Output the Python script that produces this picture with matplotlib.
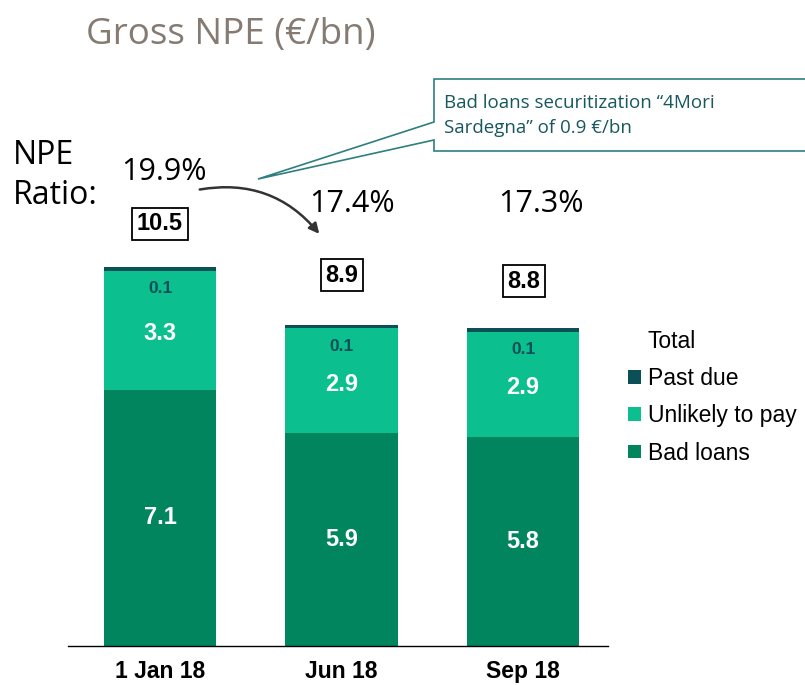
import matplotlib
matplotlib.use("Agg")
import matplotlib.pyplot as plt
from matplotlib.patches import Patch, Polygon, FancyArrowPatch
import numpy as np

categories = ["1 Jan 18", "Jun 18", "Sep 18"]
bad_loans = [7.1, 5.9, 5.8]
unlikely_to_pay = [3.3, 2.9, 2.9]
past_due = [0.1, 0.1, 0.1]
totals = [10.5, 8.9, 8.8]
npe_ratio = ["19.9%", "17.4%", "17.3%"]

C_BAD = "#00855F"
C_UTP = "#0BBF8E"
C_PD = "#0B4F57"

W, H = 805, 685
fig = plt.figure(figsize=(W / 100, H / 100), dpi=100)
fig.patch.set_facecolor("white")

def fx(x):
    return x / W

def fy(y):
    return 1 - y / H

ax = fig.add_axes([fx(68), fy(646), (608 - 68) / W, (646 - 60) / H])
x = np.arange(len(categories))
bw = 0.62
ax.bar(x, bad_loans, bw, color=C_BAD, zorder=2)
ax.bar(x, unlikely_to_pay, bw, bottom=bad_loans, color=C_UTP, zorder=2)
bottoms = [a + b for a, b in zip(bad_loans, unlikely_to_pay)]
ax.bar(x, past_due, bw, bottom=bottoms, color=C_PD, zorder=2)

ax.set_xlim(-0.507, 2.468)
ax.set_ylim(0, (646 - 60) / 36.1)
for s in ["top", "right", "left"]:
    ax.spines[s].set_visible(False)
ax.spines["bottom"].set_color("black")
ax.spines["bottom"].set_linewidth(1.0)
ax.set_yticks([])
ax.set_xticks(x)
ax.set_xticklabels(categories, fontsize=16.5, fontweight="bold", family="Liberation Sans")
ax.tick_params(axis="x", length=0, pad=10)

lab_font = dict(family="Liberation Sans", fontweight="bold", ha="center", va="center")
for i in range(len(categories)):
    ax.text(x[i], bad_loans[i] / 2, f"{bad_loans[i]:.1f}", color="white", fontsize=17, **lab_font)
    ax.text(x[i], bad_loans[i] + unlikely_to_pay[i] / 2 - 0.1, f"{unlikely_to_pay[i]:.1f}", color="white", fontsize=17, **lab_font)
    ax.text(x[i], bottoms[i] - 0.5, f"{past_due[i]:.1f}", color=C_PD, fontsize=12.5, **lab_font)

# totals in boxes
total_pos = [(160, 224), (342, 275), (524, 281)]
for (px, py), t in zip(total_pos, totals):
    fig.text(fx(px), fy(py), f"{t:.1f}", fontsize=17, color="black", ha="center", va="center",
             family="Liberation Sans", fontweight="bold",
             bbox=dict(boxstyle="square,pad=0.2", fc="white", ec="black", lw=1.3))

# NPE ratio
fig.text(fx(13), fy(155), "NPE", fontsize=23, color="black", ha="left", va="center", family="Open Sans")
fig.text(fx(13), fy(196), "Ratio:", fontsize=23, color="black", ha="left", va="center", family="Open Sans")
ratio_pos = [(164, 172), (352, 204), (541, 204)]
for (px, py), r in zip(ratio_pos, npe_ratio):
    fig.text(fx(px), fy(py), r, fontsize=22, color="black", ha="center", va="center", family="Open Sans")

# title
fig.text(fx(86), fy(35), "Gross NPE (€/bn)", fontsize=26.5, color="#857B72", ha="left", va="center", family="Open Sans")

# legend
handles = [Patch(facecolor="none", edgecolor="none"),
           Patch(facecolor=C_PD, edgecolor="none"),
           Patch(facecolor=C_UTP, edgecolor="none"),
           Patch(facecolor=C_BAD, edgecolor="none")]
labels = ["Total", "Past due", "Unlikely to pay", "Bad loans"]
fig.legend(handles, labels, loc="upper left", bbox_to_anchor=(fx(628), fy(330)),
           frameon=False, prop=dict(family="Liberation Sans", size=16.5),
           handlelength=0.55, handleheight=0.55, handletextpad=0.32,
           labelspacing=0.62, borderpad=0, borderaxespad=0)

# callout box with pointer
pts = [(fx(812), fy(79)), (fx(434), fy(79)), (fx(434), fy(122)), (fx(258), fy(179)),
       (fx(434), fy(140)), (fx(434), fy(151)), (fx(812), fy(151))]
poly = Polygon(pts, closed=False, transform=fig.transFigure, facecolor="white",
               edgecolor="#2E7F80", lw=1.2, zorder=5)
fig.patches.append(poly)
fig.text(fx(444), fy(103), "Bad loans securitization “4Mori", fontsize=13.5, color="#17585E",
         ha="left", va="center", family="Open Sans", zorder=6)
fig.text(fx(444), fy(128), "Sardegna” of 0.9 €/bn", fontsize=13.5, color="#17585E",
         ha="left", va="center", family="Open Sans", zorder=6)

# curved arrow
arr = FancyArrowPatch((fx(197), fy(190)), (fx(321), fy(236)), transform=fig.transFigure,
                      connectionstyle="arc3,rad=-0.3", arrowstyle="-|>,head_length=6,head_width=3",
                      color="#333333", lw=1.8, zorder=6)
fig.patches.append(arr)

fig.savefig("out.png", dpi=100)
